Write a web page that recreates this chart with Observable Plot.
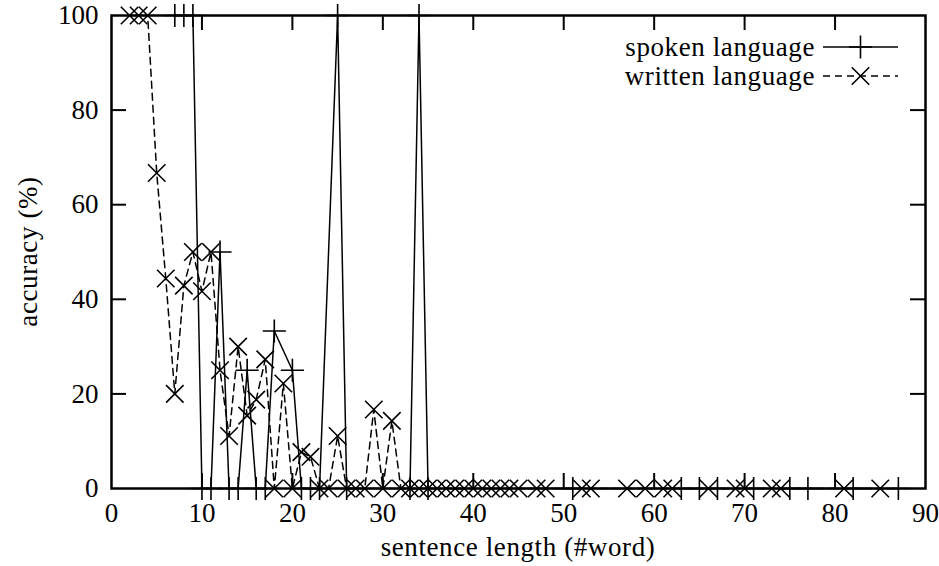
<!DOCTYPE html>
<html><head><meta charset="utf-8">
<script src="https://cdn.jsdelivr.net/npm/d3@7"></script>
<script src="https://cdn.jsdelivr.net/npm/@observablehq/plot@0.6"></script>
<style>
html,body{margin:0;padding:0;background:#fff;}
svg text, svg tspan { font-family: "Liberation Serif", "Times New Roman", "DejaVu Serif", serif !important; }
svg text.lbl { letter-spacing: 0.6px; }
</style>
</head><body><div id="chart"></div>
<script>
const spokenX = [7,8,9,10,11,12,13,14,15,16,17,18,20,21,22,23,25,26,33,34,35,51,63,65,67,71,75,77,82,87];
const spokenY = [100,100,100,0,0,50,0,0,25,0,0,33.3,25,0,0,0,100,0,0,100,0,0,0,0,0,0,0,0,0,0];
const writtenX = [2,3,4,5,6,7,8,9,10,11,12,13,14,15,16,17,18,19,20,21,22,23,24,25,26,27,28,29,30,31,32,33,34,35,36,37,38,39,40,41,42,43,44,45,47,48,52,53,57,59,61,62,66,69,70,73,74,81,85];
const writtenY = [100,100,100,66.7,44.4,20,42.9,50,41.7,50,25,11.1,30,15.4,18.8,27.3,0,22.2,0,7.7,6.7,0,0,11.1,0,0,0,16.7,0,14.3,0,0,0,0,0,0,0,0,0,0,0,0,0,0,0,0,0,0,0,0,0,0,0,0,0,0,0,0,0];
const xTicks = [0,10,20,30,40,50,60,70,80,90];
const yTicks = [0,20,40,60,80,100];
const seriesNames = ["spoken language","written language"];
const xLabel = "sentence length (#word)";
const yLabel = "accuracy (%)";

const spoken = spokenX.map((x,i)=>({x, y: spokenY[i]}));
const written = writtenX.map((x,i)=>({x, y: writtenY[i]}));

const W = 939, H = 566;
const mL = 111, mR = 14, mT = 15, mB = 78;
const FS = 27;

const tickLen = 15;
const xs = d3.scaleLinear().domain([0,90]).range([mL, W-mR]);
const ys = d3.scaleLinear().domain([0,100]).range([H-mB, mT]);
const dx = xs.invert(mL+tickLen);
const dy = ys.invert(H-mB-tickLen);

const chart = Plot.plot({
  width: W, height: H,
  marginLeft: mL, marginRight: mR, marginTop: mT, marginBottom: mB,
  style: {fontFamily: "Liberation Serif", fontSize: FS + "px", color: "#000", background: "#fff"},
  x: {domain: [0,90], ticks: xTicks, tickSize: 0, tickPadding: 14, label: null},
  y: {domain: [0,100], ticks: yTicks, tickSize: 0, tickPadding: 13, label: null},
  marks: [
    Plot.ruleX(xTicks.slice(1,-1), {y1: 0, y2: dy, stroke: "#000", strokeWidth: 2}),
    Plot.ruleX(xTicks.slice(1,-1), {y1: 100-dy, y2: 100, stroke: "#000", strokeWidth: 2}),
    Plot.ruleY(yTicks.slice(1,-1), {x1: 0, x2: dx, stroke: "#000", strokeWidth: 2}),
    Plot.ruleY(yTicks.slice(1,-1), {x1: 90-dx, x2: 90, stroke: "#000", strokeWidth: 2}),
    Plot.line(spoken, {x: "x", y: "y", stroke: "#000", strokeWidth: 1.5}),
    Plot.dot(spoken, {x: "x", y: "y", symbol: "plus", r: 7.5, stroke: "#000", strokeWidth: 1.6}),
    Plot.line(written, {x: "x", y: "y", stroke: "#000", strokeWidth: 1.5, strokeDasharray: "7,5"}),
    Plot.dot(written, {x: "x", y: "y", symbol: "times", r: 8, stroke: "#000", strokeWidth: 1.6}),
    Plot.frame({stroke: "#000", strokeWidth: 2.5})
  ]
});
document.getElementById("chart").appendChild(chart);

const svg = d3.select(chart);
// legend
const lg = svg.append("g");
const lx1 = xs(90) - 102, lx2 = xs(90) - 27, lxm = (lx1+lx2)/2;
const ly1 = ys(100) + 32, ly2 = ys(100) + 61;
lg.append("text").attr("class","lbl").attr("x", lx1 - 8).attr("y", ly1).attr("dy", "0.32em").attr("text-anchor","end")
  .attr("font-size", FS).attr("fill","#000").text(seriesNames[0]);
lg.append("text").attr("class","lbl").attr("x", lx1 - 8).attr("y", ly2).attr("dy", "0.32em").attr("text-anchor","end")
  .attr("font-size", FS).attr("fill","#000").text(seriesNames[1]);
const g = lg.append("g").attr("stroke", "#000").attr("fill", "none").attr("stroke-width", 1.5);
g.append("line").attr("x1", lx1).attr("x2", lx2).attr("y1", ly1).attr("y2", ly1);
g.append("path").attr("d", d3.symbol(d3.symbolPlus, Math.PI*7.5*7.5)()).attr("transform", `translate(${lxm},${ly1})`).attr("stroke-width",1.6);
g.append("line").attr("x1", lx1).attr("x2", lx2).attr("y1", ly2).attr("y2", ly2).attr("stroke-dasharray", "7,5");
g.append("path").attr("d", d3.symbol(d3.symbolTimes, Math.PI*8*8)()).attr("transform", `translate(${lxm},${ly2})`).attr("stroke-width",1.6);

// axis labels
svg.append("text").attr("class","lbl").attr("x", (xs(0)+xs(90))/2).attr("y", H-10).attr("text-anchor","middle")
  .attr("font-size", FS).attr("fill","#000").text(xLabel);
svg.append("text").attr("class","lbl").attr("transform", `translate(37,${(ys(0)+ys(100))/2}) rotate(-90)`).attr("text-anchor","middle")
  .attr("font-size", FS).attr("fill","#000").text(yLabel);
</script>
</body></html>
